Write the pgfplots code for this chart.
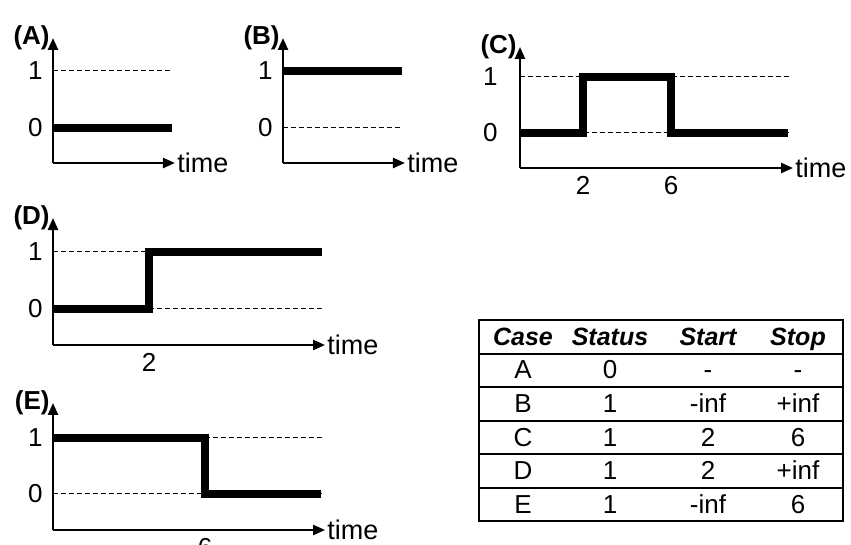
\documentclass[border=0pt]{standalone}
\usepackage{fontspec}
\setmainfont{Liberation Sans}
\usepackage{pgfplots}
\pgfplotsset{compat=1.18}
\usetikzlibrary{arrows.meta}

\newcommand{\fs}{\fontsize{12.5}{15}\selectfont}
\newcommand{\ft}{\fontsize{13}{15}\selectfont}
\newcommand{\fl}{\fontsize{13.5}{16}\selectfont}
\pgfplotsset{
  stepaxis/.style={
    axis lines=left,
    axis line style={line width=1.2pt, -{Triangle[length=6pt,width=5pt]}},
    anchor=south west,
    font=\ft,
    ticklabel style={font=\ft},
    /pgf/number format/assume math mode=true,
    major tick length=0pt,
    tick style={draw=none},
    ytick={0,1},
    xtick=\empty,
    yticklabel style={inner sep=0pt, xshift=-5pt},
    xticklabel style={inner sep=0pt, yshift=-4pt},
    xlabel={time},
    xlabel style={at={(axis description cs:1,0)}, anchor=west, inner sep=1pt, font=\fl},
    clip=false,
  },
  lvl/.style={black, line width=0.5pt, dash pattern=on 2.5pt off 1.5pt},
  sig/.style={black, line width=3.6pt},
}
\newcommand{\panel}[1]{\node[anchor=east, inner sep=0pt, xshift=-1.5pt, font=\ft\bfseries] at (rel axis cs:0,1) {#1};}

\begin{document}
\begin{tikzpicture}
\useasboundingbox (0,0) rectangle (425.5pt,-272.5pt);

% (A)
\begin{axis}[stepaxis, at={(26.5pt,-81.5pt)}, x=5.95pt, y=28.5pt,
  xmin=0, xmax=10.25, ymin=-0.614, ymax=1.579]
  \addplot[lvl] coordinates {(0,1) (9.9,1)};
  \addplot[sig] coordinates {(0,0) (10,0)};
  \panel{(A)}
\end{axis}

% (B)
\begin{axis}[stepaxis, at={(141.5pt,-81.5pt)}, x=5.95pt, y=28.5pt,
  xmin=0, xmax=10.25, ymin=-0.614, ymax=1.579]
  \addplot[lvl] coordinates {(0,0) (9.9,0)};
  \addplot[sig] coordinates {(0,1) (10,1)};
  \panel{(B)}
\end{axis}

% (C)
\begin{axis}[stepaxis, at={(260pt,-84pt)}, x=11pt, y=28pt,
  xmin=-0.864, xmax=11.545, ymin=-0.625, ymax=1.536,
  xtick={2,6}, yticklabel style={xshift=-6pt}]
  \addplot[lvl] coordinates {(-0.864,1) (11.35,1)};
  \addplot[lvl] coordinates {(-0.864,0) (11.35,0)};
  \addplot[sig] coordinates {(-0.864,0) (2,0) (2,1) (6,1) (6,0) (11.3,0)};
  \panel{(C)}
\end{axis}

% (D)
\begin{axis}[stepaxis, at={(26.5pt,-172.5pt)}, x=24pt, y=28.5pt,
  xmin=0, xmax=5.667, ymin=-0.632, ymax=1.596, xtick={2}]
  \addplot[lvl] coordinates {(0,1) (5.6,1)};
  \addplot[lvl] coordinates {(0,0) (5.65,0)};
  \addplot[sig] coordinates {(0,0) (2,0) (2,1) (5.6,1)};
  \panel{(D)}
\end{axis}

% (E)
\begin{axis}[stepaxis, at={(26.5pt,-265pt)}, x=12.667pt, y=28pt,
  xmin=0, xmax=10.74, ymin=-0.643, ymax=1.625, xtick={6}]
  \addplot[lvl] coordinates {(0,1) (10.6,1)};
  \addplot[lvl] coordinates {(0,0) (10.6,0)};
  \addplot[sig] coordinates {(0,1) (6,1) (6,0) (10.58,0)};
  \panel{(E)}
\end{axis}

% table
\begin{scope}[x=0.5pt,y=-0.5pt]
  \draw[line width=1.2pt] (479,320) rectangle (843,521);
  \foreach \yy in {353.5,387,420.5,454,487.5}
    \draw[line width=1pt] (479,\yy) -- (843,\yy);
  \begin{scope}[every node/.style={font=\fs\bfseries\itshape, inner sep=0pt, anchor=base}]
    \node at (523,345) {Case};
    \node at (610,345) {Status};
    \node at (708,345) {Start};
    \node at (798,345) {Stop};
  \end{scope}
  \begin{scope}[every node/.style={font=\ft, inner sep=0pt, anchor=base}]
    \node at (523,378) {A}; \node at (610,378) {0}; \node at (708,378) {-}; \node at (798,378) {-};
    \node at (523,412) {B}; \node at (610,412) {1}; \node at (708,412) {-inf}; \node at (798,412) {+inf};
    \node at (523,446) {C}; \node at (610,446) {1}; \node at (708,446) {2}; \node at (798,446) {6};
    \node at (523,479) {D}; \node at (610,479) {1}; \node at (708,479) {2}; \node at (798,479) {+inf};
    \node at (523,513) {E}; \node at (610,513) {1}; \node at (708,513) {-inf}; \node at (798,513) {6};
  \end{scope}
\end{scope}
\end{tikzpicture}
\end{document}
